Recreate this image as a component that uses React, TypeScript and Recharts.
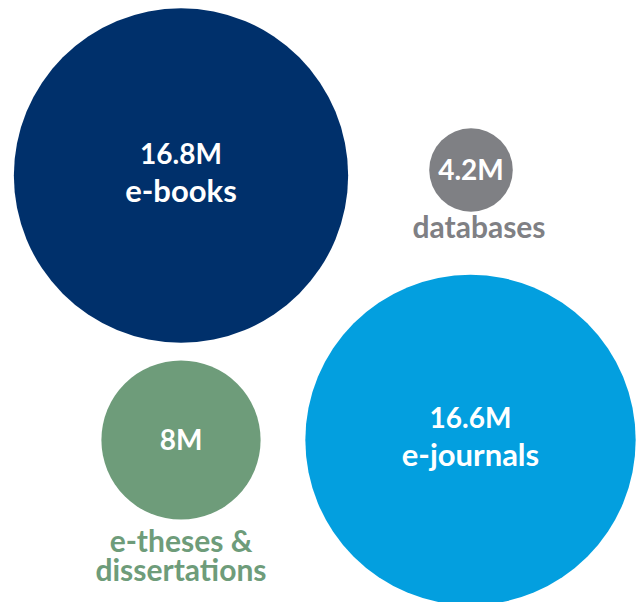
import React from 'react';
import { ScatterChart, Scatter, XAxis, YAxis, ZAxis, Cell } from 'recharts';

const categories = ['e-books', 'databases', 'e-journals', 'e-theses & dissertations'];
const values = [16.8, 4.2, 16.6, 8];
const valueLabels = ['16.8M', '4.2M', '16.6M', '8M'];
// bubble layout (packed-bubble positions in chart units)
const posX = [181, 471, 470.5, 181];
const posY = [175.5, 170, 440, 440];
const colors = ['#00306B', '#7F8084', '#039FDF', '#6E9C7A'];
const inside = [true, false, true, false];
const labelLines = [['e-books'], ['databases'], ['e-journals'], ['e-theses &', 'dissertations']];

const data = categories.map((c, i) => ({
  name: c,
  x: posX[i],
  y: posY[i],
  value: values[i],
  valueLabel: valueLabels[i],
  color: colors[i],
  inside: inside[i],
  lines: labelLines[i],
}));

const FONT = 'Lato, "Noto Sans", sans-serif';

const Bubble = (props: any) => {
  const { cx, cy, size, payload } = props;
  const r = size;
  const p = payload;
  if (p.inside) {
    return (
      <g>
        <circle cx={cx} cy={cy} r={r} fill={p.color} />
        <text x={cx} y={cy - 12} textAnchor="middle" fill="#fff" fontFamily={FONT} fontWeight={700} fontSize={28}>{p.valueLabel}</text>
        <text x={cx} y={cy + 26} textAnchor="middle" fill="#fff" fontFamily={FONT} fontWeight={700} fontSize={31}>{p.lines[0]}</text>
      </g>
    );
  }
  const single = p.lines.length === 1;
  const dx = single ? 8 : 0;
  const off = single ? 26 : 32;
  return (
    <g>
      <circle cx={cx} cy={cy} r={r} fill={p.color} />
      <text x={cx} y={cy + 9.5} textAnchor="middle" fill="#fff" fontFamily={FONT} fontWeight={700} fontSize={28}>{p.valueLabel}</text>
      {p.lines.map((l: string, i: number) => (
        <text key={i} x={cx + dx} y={cy + r + off + i * 29} textAnchor="middle" fill={p.color} fontFamily={FONT} fontWeight={700} fontSize={30}>{l}</text>
      ))}
    </g>
  );
};

export default function App() {
  return (
    <div style={{ position: 'absolute', left: 0, top: 0, width: 643, height: 602, background: '#fff' }}>
      <ScatterChart width={643} height={602} margin={{ top: 0, right: 0, bottom: 0, left: 0 }}>
        <XAxis type="number" dataKey="x" domain={[0, 643]} hide />
        <YAxis type="number" dataKey="y" domain={[0, 602]} reversed hide />
        <ZAxis type="number" dataKey="value" domain={[0, 20]} range={[0, 199]} />
        <Scatter data={data} shape={Bubble} isAnimationActive={false}>
          {data.map((d, i) => (
            <Cell key={i} fill={d.color} />
          ))}
        </Scatter>
      </ScatterChart>
    </div>
  );
}
